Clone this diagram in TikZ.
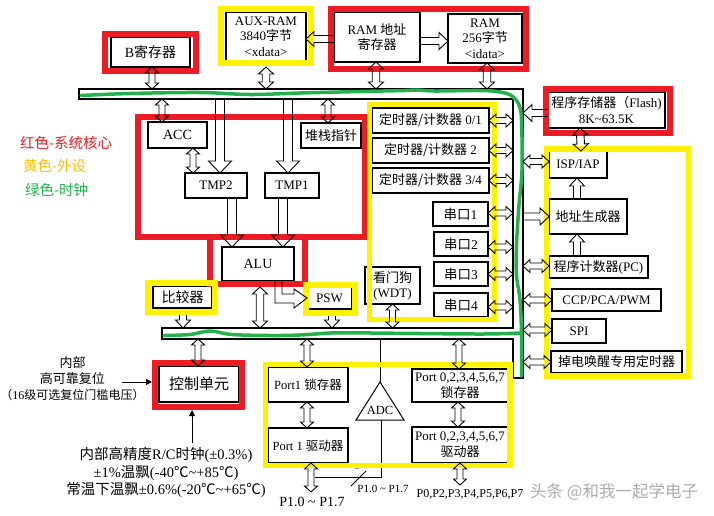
\documentclass[tikz,border=0pt]{standalone}
\usepackage{fontspec}
\setmainfont{Liberation Serif}
\newfontfamily\cjk{Noto Sans CJK SC}
\usetikzlibrary{calc,arrows.meta}
\newcommand\zh[1]{{\cjk #1}}
\definecolor{cred}{RGB}{237,28,36}
\definecolor{cyel}{RGB}{255,242,0}
\definecolor{cgrn}{RGB}{34,177,76}
\definecolor{cgold}{RGB}{255,192,0}
% single hollow arrow: from, to, half shaft, half head, head length
\newcommand\sarr[5]{%
  \path #1 coordinate (sA) #2 coordinate (sB);
  \path ($(sB)!#5pt!(sA)$) coordinate (sH);
  \draw[harrow] ($(sA)!#3pt!90:(sB)$) -- ($(sH)!#3pt!-90:(sA)$) -- ($(sH)!#4pt!-90:(sA)$) -- (sB)
     -- ($(sH)!#4pt!90:(sA)$) -- ($(sH)!#3pt!90:(sA)$) -- ($(sA)!#3pt!-90:(sB)$);
}
% double hollow arrow
\newcommand\darr[5]{%
  \path #1 coordinate (dA) #2 coordinate (dB);
  \path ($(dA)!#5pt!(dB)$) coordinate (dH1) ($(dB)!#5pt!(dA)$) coordinate (dH2);
  \draw[harrow] (dA) -- ($(dH1)!#4pt!90:(dB)$) -- ($(dH1)!#3pt!90:(dB)$) -- ($(dH2)!#3pt!-90:(dA)$)
     -- ($(dH2)!#4pt!-90:(dA)$) -- (dB) -- ($(dH2)!#4pt!90:(dA)$) -- ($(dH2)!#3pt!90:(dA)$)
     -- ($(dH1)!#3pt!-90:(dB)$) -- ($(dH1)!#4pt!-90:(dB)$) -- cycle;
}
\newcommand\darrS[2]{\darr{#1}{#2}{3}{6.5}{6}}
\newcommand\darrM[2]{\darr{#1}{#2}{3.75}{7.5}{7}}
\newcommand\darrH[2]{\darr{#1}{#2}{3}{6.5}{7}}
\newcommand\sarrB[2]{\sarr{#1}{#2}{4.5}{11.5}{12}}
\newcommand\sarrH[2]{\sarr{#1}{#2}{3.5}{8.5}{9}}
\newcommand\sarrS[2]{\sarr{#1}{#2}{3.5}{7.5}{8}}
\tikzset{
 box/.style={draw, line width=1.1pt, inner sep=1pt, outer sep=0pt, align=center, font=\fontsize{13}{15.5}\selectfont},
 harrow/.style={draw, line width=0.9pt, line join=miter},
 busline/.style={draw, line width=1.1pt},
 greenl/.style={draw=cgrn, line width=3.5pt, line cap=round},
 redframe/.style={draw=cred, line width=6pt},
 yelframe/.style={draw=cyel, line width=5.5pt},
 thinl/.style={draw, line width=1pt},
 lbl/.style={inner sep=0pt, align=center},
}
\begin{document}
\begin{tikzpicture}[x=1pt,y=-1pt]
\useasboundingbox[fill=white] (0,0) rectangle (714,515);

% ---------- boxes ----------
\node[box, minimum width=79, minimum height=30, font=\fontsize{14}{16}\selectfont] (B) at (150.5,52) {B\zh{寄存器}};
\node[box, minimum width=80, minimum height=49] (AUX) at (266,36.5) {AUX-RAM\\3840\zh{字节}\\<xdata>};
\node[box, minimum width=86, minimum height=50] (RA) at (377,37) {RAM \zh{地址}\\\zh{寄存器}};
\node[box, minimum width=74, minimum height=49] (R256) at (485,38.5) {RAM\\256\zh{字节}\\<idata>};
\node[box, minimum width=59, minimum height=26, font=\fontsize{14}{16}\selectfont] (ACC) at (177.5,135) {ACC};
\node[box, minimum width=62, minimum height=25] (TMP2) at (216,185.5) {TMP2};
\node[box, minimum width=54, minimum height=25] (TMP1) at (292,185.5) {TMP1};
\node[box, minimum width=60, minimum height=25] (SP) at (331,135.5) {\zh{堆栈指针}};
\node[box, minimum width=72, minimum height=34, font=\fontsize{14}{16}\selectfont] (ALU) at (258,264) {ALU};
\node[box, minimum width=59, minimum height=22, font=\fontsize{14}{16}\selectfont] (CMP) at (182.5,297) {\zh{比较器}};
\node[box, minimum width=45, minimum height=22] (PSW) at (329.5,298) {PSW};
\node[box, minimum width=117, minimum height=25] (T01) at (430.5,120.5) {\zh{定时器/计数器} 0/1};
\node[box, minimum width=117, minimum height=25] (T2) at (430.5,150.5) {\zh{定时器/计数器} 2};
\node[box, minimum width=117, minimum height=25] (T34) at (430.5,180.5) {\zh{定时器/计数器} 3/4};
\node[box, minimum width=55, minimum height=24, font=\fontsize{13.5}{16}\selectfont] (U1) at (460.5,214) {\zh{串口}1};
\node[box, minimum width=54, minimum height=24, font=\fontsize{13.5}{16}\selectfont] (U2) at (461,244) {\zh{串口}2};
\node[box, minimum width=54, minimum height=24, font=\fontsize{13.5}{16}\selectfont] (U3) at (461,274) {\zh{串口}3};
\node[box, minimum width=54, minimum height=24, font=\fontsize{13.5}{16}\selectfont] (U4) at (461,305) {\zh{串口}4};
\node[box, minimum width=55, minimum height=37, font=\fontsize{13}{15}\selectfont] (WDT) at (392.5,285.5) {\zh{看门狗}\\(WDT)};
\node[box, minimum width=117, minimum height=36] (FL) at (606.5,110) {\zh{程序存储器（}Flash)\\8K\textasciitilde 63.5K};
\node[box, minimum width=58, minimum height=27] (ISP) at (578,164.5) {ISP/IAP};
\node[box, minimum width=78, minimum height=35] (AG) at (588,216.5) {\zh{地址生成器}};
\node[box, minimum width=99, minimum height=22] (PC) at (598.5,267) {\zh{程序计数器}(PC)};
\node[box, minimum width=109, minimum height=22] (CCP) at (606.5,300) {CCP/PCA/PWM};
\node[box, minimum width=54, minimum height=24] (SPI) at (579,331) {SPI};
\node[box, minimum width=131, minimum height=22] (PD) at (616.5,362) {\zh{掉电唤醒专用定时器}};
\node[box, minimum width=80, minimum height=36, font=\fontsize{15}{17}\selectfont] (CTRL) at (199,384) {\zh{控制单元}};
\node[box, minimum width=80, minimum height=35, font=\fontsize{12.5}{15}\selectfont] (P1L) at (308,384.5) {Port1 \zh{锁存器}};
\node[box, minimum width=80, minimum height=35, font=\fontsize{12.5}{15}\selectfont] (P1D) at (308,445.5) {Port 1 \zh{驱动器}};
\node[box, minimum width=96, minimum height=33, font=\fontsize{13}{16}\selectfont] (P0L) at (460,385.5) {Port 0,2,3,4,5,6,7\\\zh{锁存器}};
\node[box, minimum width=96, minimum height=36, font=\fontsize{13}{16}\selectfont] (P0D) at (460,445) {Port 0,2,3,4,5,6,7\\\zh{驱动器}};

% ADC
\coordinate (adcA) at (380,382);
\coordinate (adcL) at (356,420);
\coordinate (adcR) at (404,420);
\coordinate (adcB) at (381,420);
\draw[thinl] (adcA) -- (adcL) -- (adcR) -- cycle;
\node[lbl, font=\fontsize{12.5}{14}\selectfont] (ADC) at (380,410) {ADC};

% ---------- bus ----------
\coordinate (busTo) at (0,89);
\coordinate (busTi) at (0,99);
\coordinate (lbT) at (0,328);
\coordinate (lbB) at (0,339);
\coordinate (rbI) at (513,0);
\coordinate (rbO) at (523,0);
\draw[busline] (79,89) -- (523,89) -- (523,378) -- (513,378) -- (513,339) -- (162,339) -- (162,328)
   -- (513,328) -- (513,99) -- (79,99) -- cycle;
\draw[greenl] plot[smooth, tension=0.6] coordinates {(81,95.5) (130,93.5) (200,92.5) (250,94.5) (300,93)
   (360,91.5) (405,90.5) (417,90) (435,91) (480,90.5) (500,92) (512,96) (519,105) (521.5,120) (522,170)
   (519,205) (516.5,245) (516.5,275) (520,300) (521.5,333) (521.5,376)};
\draw[greenl] plot[smooth, tension=0.6] coordinates {(164,335.5) (190,334.5) (210,331) (232,334.5)
   (270,335.5) (300,335) (330,333) (350,332.8) (400,333.3) (480,334) (513,333.3) (521,333)};

% ADC wiring
\coordinate (adcIn) at ($(P1D.south)+(7,14)$);
\draw[thinl] (adcA |- lbB) -- (adcA);
\draw[thinl] (adcB) |- (adcIn);
\coordinate (adcK) at (adcB |- adcIn);
\draw[thinl] ($(adcK)+(-30,9)$) -- ($(adcK)+(-15,-6)$);
\node[lbl, font=\fontsize{8}{9}\selectfont] (bits) at ($(adcK)+(-24,-10)$) {8};

% ---------- frames ----------
\draw[redframe] (105,34) rectangle (196,71);
\draw[yelframe] (221,9) rectangle (311,63);
\draw[redframe] (331,8.5) rectangle (526,68.5);
\draw[redframe] (138,116.5) rectangle (364.5,236.5);
\draw[redframe] (209.5,236.5) rectangle (304.5,284);
\draw[yelframe] (148,283) rectangle (215,312);
\draw[yelframe] (306,285) rectangle (355,313);
\draw[yelframe] (369.5,104.5) rectangle (494.5,319.5);
\draw[redframe] (545.5,88.5) rectangle (670,132.5);
\draw[yelframe] (546.5,149) rectangle (688.5,376);
\draw[redframe] (155,363) rectangle (242,407);
\draw[yelframe] (265.5,364.5) rectangle (510,465.5);

% ---------- arrows ----------
\darrS{($(B.south)+(1.5,0)$)}{($(B.south |- busTo)+(1.5,0)$)}
\darrM{($(AUX.south)+(0,6)$)}{(AUX.south |- busTo)}
\darrM{($(RA.south)+(-1,0)$)}{($(RA.south |- busTo)+(-1,0)$)}
\darrM{($(R256.south)+(2,0)$)}{($(R256.south |- busTo)+(2,0)$)}
\sarrS{($(RA.west)+(0,2)$)}{($(RA.west -| AUX.east)+(0,2)$)}
\sarrH{($(RA.east)+(0,4)$)}{($(RA.east -| R256.west)+(0,4)$)}
\darrS{($(ACC.north west |- busTi)+(14,0)$)}{($(ACC.north west)+(14,0)$)}
\darrS{($(ACC.south west)+(45,0)$)}{($(TMP2.north west)+(8,0)$)}
\sarrB{($(TMP2.north |- busTi)+(4,0)$)}{($(TMP2.north)+(4,0)$)}
\sarrB{($(TMP1.north |- busTi)+(-4,0)$)}{($(TMP1.north)+(-4,0)$)}
\darrS{($(SP.north |- busTi)+(-3,0)$)}{($(SP.north)+(-3,0)$)}
\sarrB{($(TMP2.south)+(16,0)$)}{($(TMP2.south |- ALU.north)+(16,0)$)}
\sarrB{($(TMP1.south)+(-9,0)$)}{($(TMP1.south |- ALU.north)+(-9,0)$)}
\darrM{($(ALU.south)+(2,6)$)}{($(ALU.south |- lbT)+(2,0)$)}
\draw[harrow] ($(ALU.south)+(24,0)$) |- ($(PSW.west)+(-13,-4)$) -- ($(PSW.west)+(-13,-9)$) -- (PSW.west)
   -- ($(PSW.west)+(-13,10)$) -- ($(PSW.west)+(-13,5)$) -| ($(ALU.south)+(17,0)$);
\sarrS{($(CMP.south)+(0.5,7)$)}{($(CMP.south |- lbT)+(0.5,0)$)}
\sarrS{($(PSW.south)+(2.5,7)$)}{($(PSW.south |- lbT)+(2.5,0)$)}
\darrH{(T01.east)}{(T01.east -| rbI)}
\darrH{(T2.east)}{(T2.east -| rbI)}
\darrH{(T34.east)}{(T34.east -| rbI)}
\darrH{($(U1.east)+(0,-1)$)}{($(U1.east -| rbI)+(0,-1)$)}
\darrH{($(U2.east)+(0,3)$)}{($(U2.east -| rbI)+(0,3)$)}
\darrH{(U3.east)}{(U3.east -| rbI)}
\darrH{($(U4.east)+(0,2)$)}{($(U4.east -| rbI)+(0,2)$)}
\darrS{(WDT.south)}{(WDT.south |- lbT)}
\sarrH{($(FL.west)+(0,3)$)}{($(FL.west -| rbO)+(0,3)$)}
\darrM{($(FL.south west)+(32,0)$)}{($(ISP.north west)+(32,0)$)}
\darrH{($(ISP.west -| rbO)+(0,-3)$)}{($(ISP.west)+(0,-3)$)}
\sarrS{($(AG.north west)+(28,0)$)}{($(ISP.south west)+(28,0)$)}
\sarrH{(AG.west -| rbO)}{(AG.west)}
\sarrS{($(PC.north west)+(28,0)$)}{($(AG.south west)+(28,0)$)}
\darrH{($(PC.west -| rbO)+(0,-1)$)}{($(PC.west)+(0,-1)$)}
\darrH{(CCP.west -| rbO)}{(CCP.west)}
\darrH{($(SPI.west -| rbO)+(0,-1)$)}{($(SPI.west)+(0,-1)$)}
\darrH{(PD.west -| rbO)}{(PD.west)}
\darrS{($(CTRL.north |- lbB)+(-1,0)$)}{($(CTRL.north)+(-1,0)$)}
\darrS{($(P1L.north |- lbB)+(-1,0)$)}{($(P1L.north)+(-1,0)$)}
\darrS{($(P1L.south)+(-1,0)$)}{($(P1D.north)+(-1,0)$)}
\darrS{($(P0L.north |- lbB)+(-1,0)$)}{($(P0L.north)+(-1,0)$)}
\darrS{($(P0L.south)+(-2,0)$)}{($(P0D.north)+(-2,0)$)}
\darrS{($(P1D.south)+(3,0)$)}{($(P1D.south)+(3,29)$)}
\darrS{(P0D.south)}{($(P0D.south)+(0,22)$)}

% ---------- texts ----------
\node[lbl, anchor=west, text=cred, font={\cjk\fontsize{14.5}{17}\selectfont}] (lg1) at (20,143) {红色-系统核心};
\node[lbl, anchor=west, text=cgold, font={\cjk\fontsize{14.5}{17}\selectfont}] (lg2) at (23,166) {黄色-外设};
\node[lbl, anchor=west, text=cgrn, font={\cjk\fontsize{14.5}{17}\selectfont}] (lg3) at (25,190) {绿色-时钟};

\node[lbl, font=\fontsize{13}{16}\selectfont] (rst) at (72.5,379) {\zh{内部}\\\zh{高可靠复位}\\{\fontsize{12}{14}\selectfont\zh{（}16\zh{级可选复位门槛电压）}}};
\coordinate (rstE) at ($(CTRL.west)+(-37,-2)$);
\draw[thinl, -{Triangle[length=6pt,width=6pt]}] (rstE) -- ($(CTRL.west)+(-7,-2)$);

\node[lbl, font=\fontsize{14.5}{17.5}\selectfont] (clk) at (166,472.5) {\zh{内部高精度}R/C\zh{时钟}(±0.3\%)\\±1\%\zh{温飘}(-40\zh{℃}\textasciitilde +85\zh{℃})\\\zh{常温下温飘}±0.6\%(-20\zh{℃}\textasciitilde +65\zh{℃})};
\coordinate (clkN) at ($(CTRL.south)+(-7,41)$);
\draw[thinl, -{Triangle[length=6pt,width=6pt]}] (clkN) -- ($(CTRL.south)+(-7,8)$);

\node[lbl, font=\fontsize{14}{16}\selectfont] (p1pins) at (312,502) {P1.0 \textasciitilde{} P1.7};
\node[lbl, font=\fontsize{11}{13}\selectfont] (adcpins) at (383,489) {P1.0 \textasciitilde{} P1.7};
\node[lbl, font=\fontsize{12}{14}\selectfont] (p0pins) at (470,494) {P0,P2,P3,P4,P5,P6,P7};

\node[lbl, anchor=west, text=gray!65, font={\cjk\fontsize{16.5}{19}\selectfont}] (wm) at (530,492) {头条 @和我一起学电子};
\end{tikzpicture}
\end{document}
